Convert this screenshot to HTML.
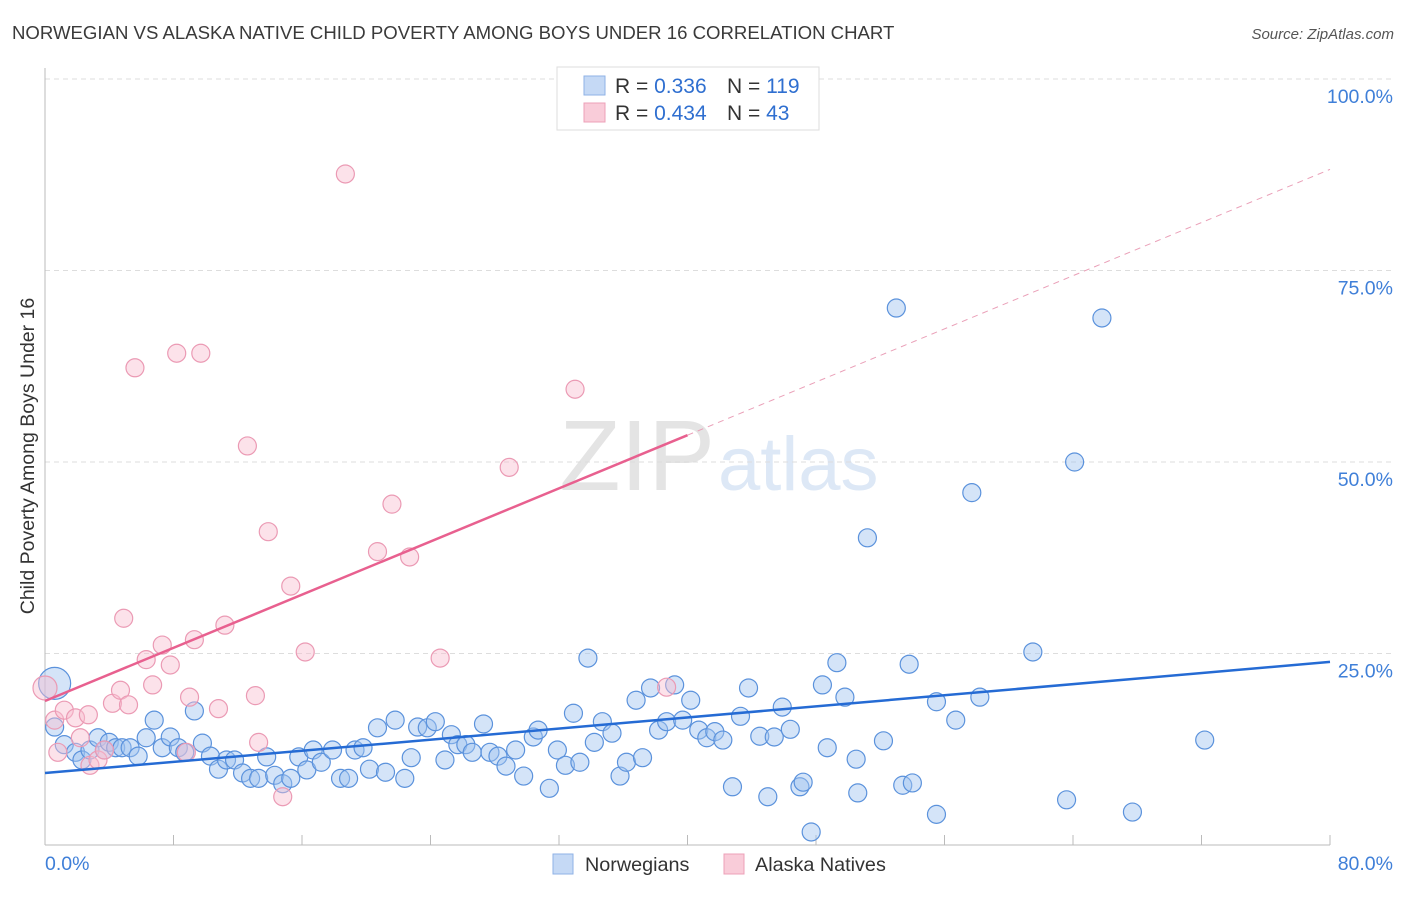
<!DOCTYPE html>
<html><head><meta charset="utf-8"><style>
body{margin:0;background:#fff;font-family:"Liberation Sans",sans-serif;}
svg text{font-family:"Liberation Sans",sans-serif;}
</style></head><body>
<svg id="chart" width="1406" height="892" xmlns="http://www.w3.org/2000/svg">
<text x="12" y="39" font-size="18.6" fill="#3a3a3a">NORWEGIAN VS ALASKA NATIVE CHILD POVERTY AMONG BOYS UNDER 16 CORRELATION CHART</text>
<text x="1394" y="39" font-size="15" fill="#555" font-style="italic" text-anchor="end">Source: ZipAtlas.com</text>
<text x="34" y="456" font-size="19.5" fill="#333" text-anchor="middle" transform="rotate(-90 34 456)">Child Poverty Among Boys Under 16</text>
<text x="715" y="490" font-size="100" fill="#e4e4e4" text-anchor="end" font-family="Liberation Serif">ZIP</text>
<text x="718" y="490" font-size="76" fill="#dde8f6">atlas</text>
<g id="grid"></g>
<g id="marks"></g>
<g>
<rect x="557" y="67" width="262" height="63" fill="#fff" stroke="#ddd"/>
<rect x="584" y="76" width="21" height="19" fill="#c5d9f5" stroke="#8fb2e6"/>
<rect x="584" y="103" width="21" height="19" fill="#f9ccd9" stroke="#eda0b8"/>
<text x="615" y="93" font-size="21" fill="#333">R = <tspan fill="#2f6fd0">0.336</tspan></text>
<text x="727" y="93" font-size="21" fill="#333">N = <tspan fill="#2f6fd0">119</tspan></text>
<text x="615" y="120" font-size="21" fill="#333">R = <tspan fill="#2f6fd0">0.434</tspan></text>
<text x="727" y="120" font-size="21" fill="#333">N = <tspan fill="#2f6fd0"> 43</tspan></text>
</g>
<g>
<rect x="553" y="854" width="20" height="20" fill="#c5d9f5" stroke="#8fb2e6"/>
<text x="585" y="871" font-size="19.8" fill="#333">Norwegians</text>
<rect x="724" y="854" width="20" height="20" fill="#f9ccd9" stroke="#eda0b8"/>
<text x="755" y="871" font-size="19.8" fill="#333">Alaska Natives</text>
</g>
</svg>
<script>
const yTicks=[25,50,75,100];
const yTickLabels=["25.0%","50.0%","75.0%","100.0%"];
const xTicks=[0,8,16,24,32,40,48,56,64,72,80];
const blueX=[0.6,0.6,1.2,1.9,2.3,2.8,3.3,3.7,4.0,4.4,4.8,5.3,5.8,6.3,6.8,7.3,7.8,8.3,8.7,9.3,9.8,10.3,10.8,11.3,11.8,12.3,12.8,13.3,13.8,14.3,14.8,15.3,15.8,16.3,16.7,17.2,17.9,18.4,18.9,19.3,19.8,20.2,20.7,21.2,21.8,22.4,22.8,23.2,23.8,24.3,24.9,25.3,25.7,26.2,26.6,27.3,27.7,28.2,28.7,29.3,29.8,30.4,30.7,31.4,31.9,32.4,32.9,33.3,33.8,34.2,34.7,35.3,35.8,36.2,36.8,37.2,37.7,38.2,38.7,39.2,39.7,40.2,40.7,41.2,41.7,42.2,42.8,43.3,43.8,44.5,45.0,45.4,45.9,46.4,47.0,47.2,47.7,48.4,48.7,49.3,49.8,50.5,50.6,51.2,52.2,53.0,53.4,53.8,54.0,55.5,55.5,56.7,57.7,58.2,61.5,63.6,64.1,65.8,67.7,72.2];
const blueY=[21.1,15.4,13.1,12.1,11.1,12.4,14.0,12.4,13.4,12.7,12.7,12.7,11.6,14.0,16.3,12.7,14.1,12.7,12.1,17.5,13.3,11.6,9.9,11.1,11.1,9.4,8.7,8.7,11.5,9.1,8.0,8.7,11.5,9.8,12.4,10.8,12.4,8.7,8.7,12.4,12.7,9.9,15.3,9.5,16.3,8.7,11.4,15.4,15.3,16.1,11.1,14.4,13.1,13.1,12.1,15.8,12.1,11.6,10.3,12.4,9.0,14.1,15.0,7.4,12.4,10.4,17.2,10.8,24.4,13.4,16.1,14.6,9.0,10.8,18.9,11.4,20.5,15.0,16.1,20.9,16.3,18.9,15.0,14.0,14.8,13.7,7.6,16.8,20.5,14.2,6.3,14.1,18.0,15.1,7.6,8.2,1.7,20.9,12.7,23.8,19.3,11.2,6.8,40.1,13.6,70.1,7.8,23.6,8.1,4.0,18.7,16.3,46.0,19.3,25.2,5.9,50.0,68.8,4.3,13.7];
const pinkX=[0,0.6,0.8,1.2,1.9,2.2,2.7,2.8,3.3,3.7,4.2,4.7,5.2,4.9,5.6,6.3,6.7,7.3,7.8,8.2,8.8,9.0,9.3,9.7,10.8,11.2,12.6,13.1,13.3,13.9,14.8,15.3,16.2,18.7,20.7,21.6,22.7,24.6,28.9,33.0,38.7];
const pinkY=[20.5,16.3,12.1,17.6,16.6,14.0,17.0,10.4,11.1,12.4,18.5,20.2,18.3,29.6,62.3,24.2,20.9,26.1,23.5,64.2,12.1,19.3,26.8,64.2,17.8,28.7,52.1,19.5,13.4,40.9,6.3,33.8,25.2,87.6,38.3,44.5,37.6,24.4,49.3,59.5,20.6];
const blueTrend=[9.4,23.9];
const pinkTrend=[18.8,53.5,88.2];
const X=v=>45+v/80*1285;
const Y=v=>845-v*7.66;
const NS="http://www.w3.org/2000/svg";
function mk(tag,attrs,parent){const e=document.createElementNS(NS,tag);for(const k in attrs)e.setAttribute(k,attrs[k]);parent.appendChild(e);return e;}
const grid=document.getElementById('grid'),marks=document.getElementById('marks');
yTicks.forEach((t,i)=>{
 const g=mk('line',{x1:45,x2:1394,y1:Y(t),y2:Y(t),stroke:'#ddd','stroke-dasharray':'5,4'},grid);
 
 
 const l=mk('text',{x:1393,y:Y(t)+24,'font-size':19.5,fill:'#3f7fd8','text-anchor':'end'},grid);
 l.textContent=yTickLabels[i];
 
 
});
const ax=mk('line',{x1:45,x2:45,y1:68,y2:845,stroke:'#bbb'},grid);


const bx=mk('line',{x1:45,x2:1330,y1:845,y2:845,stroke:'#bbb'},grid);


xTicks.forEach(t=>{
 const tk=mk('line',{x1:X(t),x2:X(t),y1:835,y2:845,stroke:'#bbb'},grid);
 
 
});
const xl0=mk('text',{x:45,y:870,'font-size':19.5,fill:'#3f7fd8'},grid);xl0.textContent='0.0%';


const xl1=mk('text',{x:1393,y:870,'font-size':19.5,fill:'#3f7fd8','text-anchor':'end'},grid);xl1.textContent='80.0%';


blueX.forEach((x,i)=>{
 const c=mk('circle',{cx:X(x),cy:Y(blueY[i]),r:i===0?16:9,fill:'rgba(160,196,240,0.45)',stroke:'#5b92dc','stroke-width':1.2},marks);
 
 
});
pinkX.forEach((x,i)=>{
 const c=mk('circle',{cx:X(x),cy:Y(pinkY[i]),r:i===0?12:9,fill:'rgba(248,190,208,0.45)',stroke:'#eb9ab4','stroke-width':1.2},marks);
 
 
});
const bl=mk('line',{x1:X(0),y1:Y(blueTrend[0]),x2:X(80),y2:Y(blueTrend[1]),stroke:'#256bd4','stroke-width':2.5},marks);


const pl=mk('line',{x1:X(0),y1:Y(pinkTrend[0]),x2:X(40),y2:Y(pinkTrend[1]),stroke:'#e8608f','stroke-width':2.5},marks);


const pd=mk('line',{x1:X(40),y1:Y(pinkTrend[1]),x2:X(80),y2:Y(pinkTrend[2]),stroke:'#eaa0b8','stroke-width':1,'stroke-dasharray':'6,5'},marks);


</script>
</body></html>
